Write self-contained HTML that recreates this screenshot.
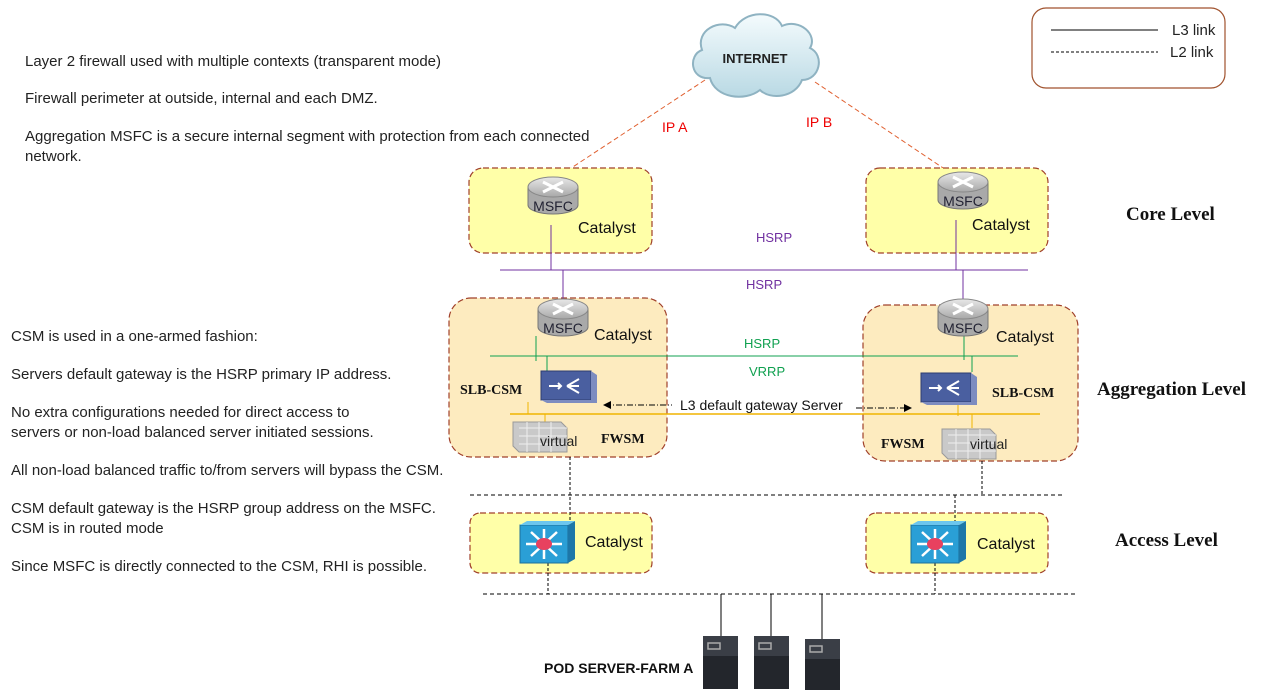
<!DOCTYPE html>
<html><head><meta charset="utf-8"><style>
html,body{margin:0;padding:0;background:#fff;width:1269px;height:690px;overflow:hidden}
svg{display:block}
text{font-family:"Liberation Sans",sans-serif}
.t{font-size:15px;fill:#222}
.b{font-family:"Liberation Serif",serif;font-weight:bold;font-size:14px;fill:#111}
.lv{font-family:"Liberation Serif",serif;font-weight:bold;font-size:19px;fill:#111}
.cat{font-size:16px;fill:#111}
</style></head><body>
<svg width="1269" height="690" viewBox="0 0 1269 690" xmlns="http://www.w3.org/2000/svg">
<defs>
<linearGradient id="rg" x1="0" y1="0" x2="0" y2="1"><stop offset="0" stop-color="#e8e8e8"/><stop offset="1" stop-color="#a8a8a8"/></linearGradient>
<linearGradient id="cl" x1="0" y1="0" x2="0" y2="1"><stop offset="0" stop-color="#f4fbfd"/><stop offset="1" stop-color="#b9d9e4"/></linearGradient>
<g id="router">
<path d="M-25,-8 L-25,10 A25,9 0 0 0 25,10 L25,-8 Z" fill="#a9a9a9" stroke="#777"/>
<ellipse cx="0" cy="-8" rx="25" ry="10" fill="url(#rg)" stroke="#888"/>
<path d="M-10,-13 L10,-3 M10,-13 L-10,-3" stroke="#fff" stroke-width="3"/>
<text x="0" y="16" text-anchor="middle" font-size="14" fill="#223">MSFC</text>
</g>
<g id="csm">
<rect x="0" y="0" width="50" height="29" fill="#4a5fa0" stroke="#2d3d70"/>
<path d="M50,0 L56,4 L56,32 L6,32 L0,29 L50,29Z" fill="#7d8cc0"/>
<path d="M8,15 H20 M17,12 L20,15 L17,18 M26,15 L38,8 M26,15 L38,15 M26,15 L38,22" stroke="#fff" stroke-width="2" fill="none"/>
</g>
<g id="fw">
<path d="M0,0 L48,0 L54,6 L54,30 L6,30 L0,24Z" fill="#c9c9c9" stroke="#999"/>
<path d="M6,6 H54 M6,14 H54 M6,22 H54 M14,0 V30 M26,0 V30 M38,0 V30" stroke="#eee" stroke-width="1"/>
</g>
<g id="sw">
<rect x="0" y="0" width="48" height="38" fill="#2a9fd6" stroke="#1c6f99"/>
<path d="M48,0 L55,-4 L55,34 L48,38Z" fill="#1d77a8"/>
<path d="M0,0 L7,-4 L55,-4 L48,0Z" fill="#6cc6ee"/>
<path d="M6,19 H42 M24,4 V34 M11,7 L37,31 M37,7 L11,31" stroke="#fff" stroke-width="2.5"/>
<ellipse cx="24" cy="19" rx="8" ry="6" fill="#e8415f"/>
</g>
<g id="srv">
<rect x="0" y="0" width="35" height="53" fill="#23262c"/>
<rect x="0" y="0" width="35" height="20" fill="#3a3e46"/>
<rect x="5" y="7" width="12" height="6" fill="none" stroke="#aaa" stroke-width="1.5"/>
</g>
</defs>

<rect x="1032" y="8" width="193" height="80" rx="14" fill="#fff" stroke="#a0522d" stroke-width="1.2"/>
<line x1="1051" y1="30" x2="1158" y2="30" stroke="#000"/>
<line x1="1051" y1="52" x2="1158" y2="52" stroke="#000" stroke-dasharray="3,2"/>
<text x="1172" y="35" class="t" font-size="14">L3 link</text>
<text x="1170" y="57" class="t" font-size="14">L2 link</text>

<text x="25" y="66" class="t">Layer 2 firewall used with multiple contexts (transparent mode)</text>
<text x="25" y="103" class="t">Firewall perimeter at outside, internal and each DMZ.</text>
<text x="25" y="141" class="t">Aggregation MSFC is a secure internal segment with protection from each connected</text>
<text x="25" y="161" class="t">network.</text>
<text x="11" y="341" class="t">CSM is used in a one-armed fashion:</text>
<text x="11" y="379" class="t">Servers default gateway is the HSRP primary IP address.</text>
<text x="11" y="417" class="t">No extra configurations needed for direct access to</text>
<text x="11" y="437" class="t">servers or non-load balanced server initiated sessions.</text>
<text x="11" y="475" class="t">All non-load balanced traffic to/from servers will bypass the CSM.</text>
<text x="11" y="513" class="t">CSM default gateway is the HSRP group address on the MSFC.</text>
<text x="11" y="533" class="t">CSM is in routed mode</text>
<text x="11" y="571" class="t">Since MSFC is directly connected to the CSM, RHI is possible.</text>

<line x1="705" y1="80" x2="553" y2="180" stroke="#e06030" stroke-dasharray="5,3"/>
<line x1="815" y1="82" x2="958" y2="178" stroke="#e06030" stroke-dasharray="5,3"/>
<text x="662" y="132" font-size="14" fill="#e00">IP A</text>
<text x="806" y="127" font-size="14" fill="#e00">IP B</text>

<path d="M710,78 C690,80 688,55 702,50 C695,30 720,18 735,28 C745,10 775,10 782,26 C800,18 818,35 810,48 C825,55 820,80 802,80 C795,98 770,100 760,90 C745,102 715,98 710,78Z" fill="url(#cl)" stroke="#8fb3c2" stroke-width="2"/>
<text x="755" y="63" text-anchor="middle" font-size="13" font-weight="bold" fill="#222">INTERNET</text>

<rect x="469" y="168" width="183" height="85" rx="14" fill="#ffffa8" stroke="#a0402a" stroke-dasharray="6,3" stroke-width="1.2"/>
<rect x="866" y="168" width="182" height="85" rx="14" fill="#ffffa8" stroke="#a0402a" stroke-dasharray="6,3" stroke-width="1.2"/>
<rect x="449" y="298" width="218" height="159" rx="22" fill="#fdebbf" stroke="#a0402a" stroke-dasharray="6,3" stroke-width="1.2"/>
<rect x="863" y="305" width="215" height="156" rx="22" fill="#fdebbf" stroke="#a0402a" stroke-dasharray="6,3" stroke-width="1.2"/>
<rect x="470" y="513" width="182" height="60" rx="10" fill="#ffffa8" stroke="#a0402a" stroke-dasharray="6,3" stroke-width="1.2"/>
<rect x="866" y="513" width="182" height="60" rx="10" fill="#ffffa8" stroke="#a0402a" stroke-dasharray="6,3" stroke-width="1.2"/>

<line x1="500" y1="270" x2="1028" y2="270" stroke="#7030a0"/>
<line x1="551" y1="225" x2="551" y2="270" stroke="#7030a0"/>
<line x1="956" y1="220" x2="956" y2="270" stroke="#7030a0"/>
<line x1="563" y1="270" x2="563" y2="300" stroke="#7030a0"/>
<line x1="963" y1="270" x2="963" y2="300" stroke="#7030a0"/>
<text x="756" y="242" font-size="13" fill="#7030a0">HSRP</text>
<text x="746" y="289" font-size="13" fill="#7030a0">HSRP</text>

<line x1="490" y1="356" x2="1018" y2="356" stroke="#10a050"/>
<line x1="536" y1="336" x2="536" y2="361" stroke="#10a050"/>
<line x1="547" y1="356" x2="547" y2="372" stroke="#10a050"/>
<line x1="964" y1="336" x2="964" y2="360" stroke="#10a050"/>
<line x1="972" y1="356" x2="972" y2="372" stroke="#10a050"/>
<text x="744" y="348" font-size="13" fill="#10a050">HSRP</text>
<text x="749" y="376" font-size="13" fill="#10a050">VRRP</text>

<line x1="510" y1="414" x2="1040" y2="414" stroke="#f0b400" stroke-width="1.5"/>
<line x1="528" y1="402" x2="528" y2="414" stroke="#f0b400"/>
<line x1="545" y1="414" x2="545" y2="424" stroke="#f0b400"/>
<line x1="958" y1="402" x2="958" y2="416" stroke="#f0b400"/>
<line x1="972" y1="414" x2="972" y2="428" stroke="#f0b400"/>

<use href="#router" x="553" y="195"/>
<use href="#router" x="963" y="190"/>
<use href="#router" x="563" y="317"/>
<use href="#router" x="963" y="317"/>
<text x="578" y="233" class="cat">Catalyst</text>
<text x="972" y="230" class="cat">Catalyst</text>
<text x="594" y="340" class="cat">Catalyst</text>
<text x="996" y="342" class="cat">Catalyst</text>

<use href="#csm" x="541" y="371"/>
<use href="#csm" x="921" y="373"/>
<text x="460" y="394" class="b">SLB-CSM</text>
<text x="992" y="397" class="b">SLB-CSM</text>
<line x1="605" y1="405" x2="672" y2="405" stroke="#000" stroke-dasharray="6,2,1,2"/>
<path d="M603,405 L611,401 L611,409Z"/>
<line x1="856" y1="408" x2="908" y2="408" stroke="#000" stroke-dasharray="6,2,1,2"/>
<path d="M912,408 L904,404 L904,412Z"/>
<text x="680" y="410" font-size="14" fill="#111">L3 default gateway Server</text>

<use href="#fw" x="513" y="422"/>
<use href="#fw" x="942" y="429"/>
<text x="540" y="446" font-size="14" fill="#222">virtual</text>
<text x="970" y="449" font-size="14" fill="#222">virtual</text>
<text x="601" y="443" class="b" font-size="15">FWSM</text>
<text x="881" y="448" class="b" font-size="15">FWSM</text>

<line x1="470" y1="495" x2="1062" y2="495" stroke="#000" stroke-dasharray="4,3"/>
<line x1="483" y1="594" x2="1075" y2="594" stroke="#000" stroke-dasharray="4,3"/>
<line x1="570" y1="457" x2="570" y2="522" stroke="#000" stroke-dasharray="3,2"/>
<line x1="982" y1="461" x2="982" y2="495" stroke="#000" stroke-dasharray="3,2"/>
<line x1="955" y1="495" x2="955" y2="522" stroke="#000" stroke-dasharray="3,2"/>
<line x1="548" y1="563" x2="548" y2="594" stroke="#000" stroke-dasharray="3,2"/>
<line x1="935" y1="563" x2="935" y2="594" stroke="#000" stroke-dasharray="3,2"/>

<use href="#sw" x="520" y="525"/>
<use href="#sw" x="911" y="525"/>
<text x="585" y="547" class="cat">Catalyst</text>
<text x="977" y="549" class="cat">Catalyst</text>

<line x1="721" y1="594" x2="721" y2="637" stroke="#000"/>
<line x1="771" y1="594" x2="771" y2="637" stroke="#000"/>
<line x1="822" y1="594" x2="822" y2="640" stroke="#000"/>
<use href="#srv" x="703" y="636"/>
<use href="#srv" x="754" y="636"/>
<use href="#srv" x="805" y="639"/>
<text x="544" y="673" font-size="14" font-weight="bold" fill="#111">POD SERVER-FARM A</text>

<text x="1126" y="220" class="lv">Core Level</text>
<text x="1097" y="395" class="lv">Aggregation Level</text>
<text x="1115" y="546" class="lv">Access Level</text>
</svg>
</body></html>
